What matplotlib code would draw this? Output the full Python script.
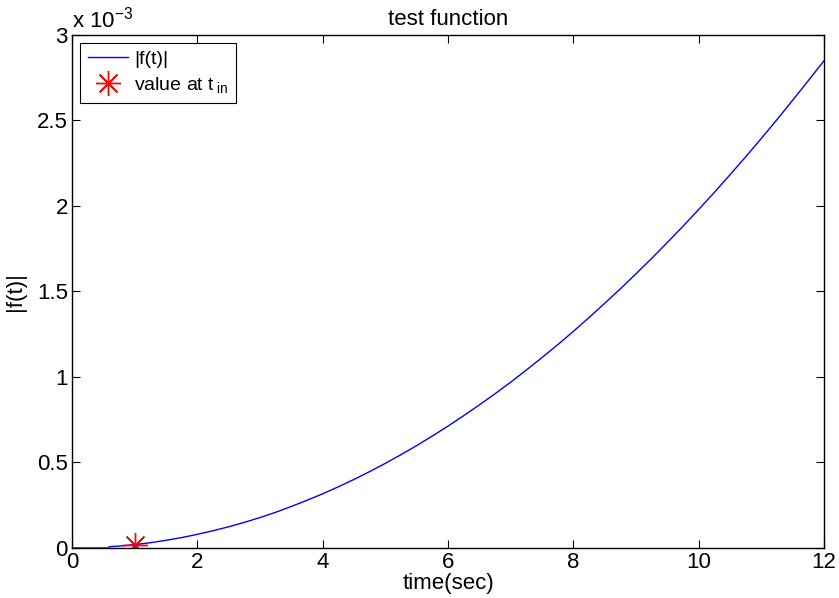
import matplotlib
matplotlib.use("Agg")
import matplotlib.pyplot as plt
from matplotlib.ticker import FuncFormatter, MultipleLocator

plt.rcParams['font.family'] = ['Liberation Sans', 'DejaVu Sans']
plt.rcParams['mathtext.fontset'] = 'custom'
plt.rcParams['mathtext.rm'] = 'Liberation Sans'
plt.rcParams['mathtext.it'] = 'Liberation Sans'

# data (t in seconds, |f(t)| in units of 1e-3)
t = [0, 0.3, 0.57, 0.6, 0.75, 1.0, 1.25, 1.5, 1.75, 2.0, 2.25, 2.5, 2.75, 3.0,
     3.25, 3.5, 3.75, 4.0, 4.25, 4.5, 4.75, 5.0, 5.25, 5.5, 5.75, 6.0, 6.25,
     6.5, 6.75, 7.0, 7.25, 7.5, 7.75, 8.0, 8.25, 8.5, 8.75, 9.0, 9.25, 9.5,
     9.75, 10.0, 10.25, 10.5, 10.75, 11.0, 11.25, 11.5, 11.75, 12.0]
f_milli = [0.0, 0.0, 0.0, 0.008, 0.011, 0.020, 0.031, 0.045, 0.061, 0.080,
           0.101, 0.124, 0.150, 0.178, 0.209, 0.243, 0.279, 0.317, 0.358,
           0.401, 0.447, 0.495, 0.546, 0.599, 0.655, 0.713, 0.774, 0.837,
           0.902, 0.970, 1.041, 1.114, 1.189, 1.267, 1.348, 1.431, 1.516,
           1.604, 1.694, 1.787, 1.882, 1.980, 2.080, 2.183, 2.288, 2.396,
           2.506, 2.619, 2.734, 2.850]
f = [v * 1e-3 for v in f_milli]
t_in = [1.0]
f_in = [0.02e-3]

FS = 16
LFS = 14

fig = plt.figure(figsize=(8.39, 5.98), dpi=100)
ax = fig.add_axes([0.0858, 0.0836, 0.8965, 0.858])

ax.plot(t, f, color='#0000ff', lw=1.0, label='|f(t)|')
ax.plot(t_in, f_in, linestyle='none', marker=(8, 2, 0), markersize=18,
        markeredgecolor='#ff0000', markeredgewidth=1.0, color='#ff0000',
        label='value at t$\\,_{\\mathregular{in}}$')

ax.set_xlim(0, 12)
ax.set_ylim(0, 3e-3)
ax.xaxis.set_major_locator(MultipleLocator(2))
ax.yaxis.set_major_locator(MultipleLocator(0.5e-3))
ax.yaxis.set_major_formatter(FuncFormatter(lambda v, p: f"{v*1e3:g}"))
ax.tick_params(direction='in', top=True, right=True, labelsize=FS, length=6,
               width=0.8, pad=3)
for s in ax.spines.values():
    s.set_linewidth(1.0)

ax.text(0.0, 1.005, 'x 10$^{-3}$', transform=ax.transAxes, fontsize=FS,
        ha='left', va='bottom')
ax.set_title('test function', fontsize=FS, pad=7)
ax.set_xlabel('time(sec)', fontsize=FS, labelpad=0)
ax.set_ylabel('|f(t)|', fontsize=FS, labelpad=8)

leg = ax.legend(loc='upper left', fontsize=LFS, frameon=True, fancybox=False,
                edgecolor='black', framealpha=1, borderpad=0.4, labelspacing=0.35,
                handlelength=2.1, handletextpad=0.3, borderaxespad=0.4)
leg.get_frame().set_linewidth(0.8)

fig.savefig('out.png', dpi=100)
